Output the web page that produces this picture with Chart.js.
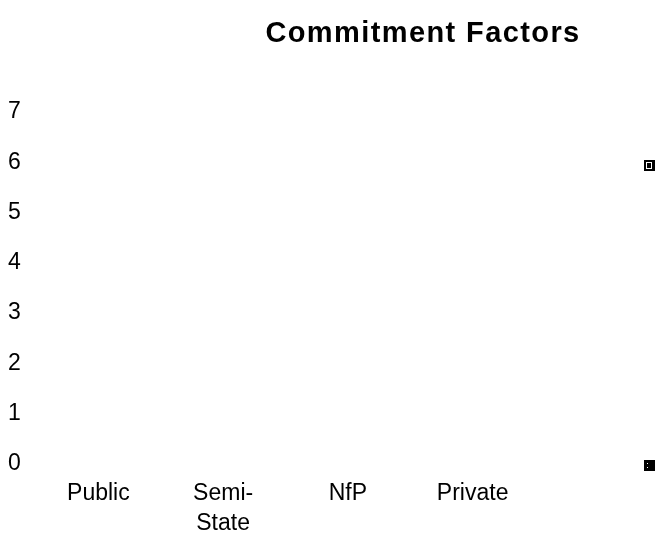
<!DOCTYPE html>
<html>
<head>
<meta charset="utf-8">
<script src="https://cdn.jsdelivr.net/npm/chart.js@4.4.1/dist/chart.umd.min.js"></script>
<style>
  html, body { margin: 0; padding: 0; background: #fff; }
  #wrap { width: 657px; height: 534px; }
</style>
</head>
<body>
<div id="wrap"><canvas id="myChart" width="657" height="534"></canvas></div>
<script>
//data
const categories = ["Public", ["Semi-", "State"], "NfP", "Private"];
const seriesOne = [0, 0, 0, 0];
const seriesTwo = [0, 0, 0, 0];
const yTicks = [0, 1, 2, 3, 4, 5, 6, 7];
const chartTitle = "Commitment Factors";

const FONT = "'Liberation Sans', Arial, sans-serif";

// title sits off-centre, over the right part of the plot
const titlePlugin = {
  id: "offTitle",
  afterDraw(chart) {
    const ctx = chart.ctx;
    ctx.save();
    ctx.letterSpacing = "1.4px";
    ctx.font = "bold 29px " + FONT;
    ctx.fillStyle = "#000";
    ctx.textAlign = "center";
    ctx.textBaseline = "middle";
    ctx.fillText(chartTitle, 423, 34);
    ctx.restore();
  },
};

// the two legend keys in the right margin
const keysPlugin = {
  id: "keys",
  afterDraw(chart) {
    const ctx = chart.ctx;
    const x = chart.width - 13;
    ctx.save();
    ctx.fillStyle = "#000";
    ctx.fillRect(x, 160, 11, 11);
    ctx.strokeStyle = "#fff";
    ctx.lineWidth = 1;
    ctx.strokeRect(x + 2.5, 162.5, 5, 6);
    ctx.fillRect(x, 460, 11, 11);
    ctx.fillStyle = "#fff";
    ctx.fillRect(x + 3, 463, 1, 1);
    ctx.fillRect(x + 3, 467, 1, 1);
    ctx.restore();
  },
};

const config = {
  type: "bar",
  data: {
    labels: categories,
    datasets: [
      { label: "Series 1", data: seriesOne, backgroundColor: "#000", borderWidth: 0 },
      { label: "Series 2", data: seriesTwo, backgroundColor: "#000", borderWidth: 0 },
    ],
  },
  options: {
    responsive: false,
    animation: false,
    layout: { padding: { top: 112, left: 8, right: 122, bottom: 0 } },
    plugins: {
      legend: { display: false },
      title: { display: false },
      tooltip: { enabled: false },
    },
    scales: {
      x: {
        grid: { display: false },
        border: { display: false },
        afterFit(scale) { scale.height = 70; },
        ticks: {
          color: "#000",
          font: { family: FONT, size: 23, lineHeight: 1.3 },
          padding: 7,
          maxRotation: 0,
          autoSkip: false,
        },
      },
      y: {
        min: 0,
        max: 7,
        grid: { display: false },
        border: { display: false },
        afterBuildTicks(scale) {
          scale.ticks = yTicks.map((v) => ({ value: v }));
        },
        afterFit(scale) { scale.width = 28; },
        ticks: {
          color: "#000",
          crossAlign: "far",
          font: { family: FONT, size: 23 },
        },
      },
    },
  },
  plugins: [titlePlugin, keysPlugin],
};

const myChart = new Chart(document.getElementById("myChart"), config);
</script>
</body>
</html>
